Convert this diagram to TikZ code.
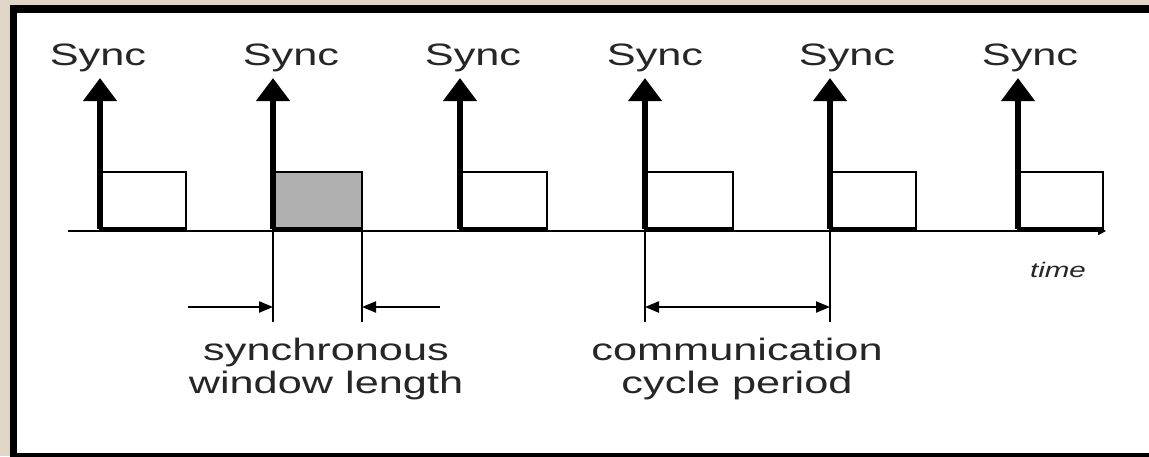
\documentclass[tikz,border=0pt]{standalone}
\usepackage{fontspec}
\setmainfont{Liberation Sans}[FakeStretch=1.4]
\usepackage{xcolor}
\usepackage{tikz}
\usetikzlibrary{arrows.meta,positioning}

\definecolor{paper}{RGB}{224,214,199}
\definecolor{window}{RGB}{176,176,176}

\begin{document}
\begin{tikzpicture}[x=0.025cm, y=-0.025cm,
    syncarrow/.style={-{Triangle[width=0.82cm,length=0.58cm]}, line width=4.2pt},
    slotbox/.style={draw, line width=2pt},
    axis/.style={-{Triangle[width=0.2cm,length=0.2cm]}, line width=1.1pt},
    marker/.style={line width=1.1pt},
    dim/.style={-{Triangle[width=0.28cm,length=0.35cm]}, line width=1.1pt},
    txt/.style={font=\fontsize{22}{23}\selectfont, text=black!85, inner sep=0pt, align=center}
]

% page and frame
\fill[paper] (0,0) rectangle (1149,456);
\useasboundingbox (0,0) rectangle (1149,456);
\draw[line width=5.2pt, fill=white] (13.5,9) rectangle (1170,456.5);

% time axis
\coordinate (t0) at (68,231);
\coordinate (t1) at (1106,231);
\draw[axis] (t0) -- (t1);
\node[font=\fontsize{15}{17}\selectfont\itshape, text=black!85, anchor=base] (time) at (1058,277) {time};

% one sync pulse per cycle, each followed by a slot
\foreach \i/\x/\xr/\lx in {1/100/186/98, 2/273/362/291, 3/460/547/473,
                           4/645/733/655, 5/830/916/847, 6/1018/1103/1030} {
  \coordinate (base\i) at (\x,229);
  \coordinate (tip\i) at (\x,78);
  \ifnum\i=2
    \fill[window] (\x,172) rectangle (\xr,229);
  \fi
  \draw[slotbox] (\x,172) rectangle (\xr,229);
  \draw[line width=3.2pt] (\x,229) -- (\xr,229);
  \draw[syncarrow] (base\i) -- (tip\i);
  \node[txt, anchor=base] (sync\i) at (\lx,65) {Sync};
}

% synchronous window
\coordinate (ws) at (273,231);
\coordinate (we) at (362,231);
\coordinate (wsb) at (273,322);
\coordinate (web) at (362,322);
\coordinate (wl) at (188,307);
\coordinate (wr) at (440,307);
\coordinate (wli) at (273,307);
\coordinate (wri) at (362,307);
\draw[marker] (ws) -- (wsb);
\draw[marker] (we) -- (web);
\draw[dim] (wl) -- (wli);
\draw[dim] (wr) -- (wri);
\node[txt, anchor=north] (winlabel) at (326,338) {synchronous\\window length};

% communication cycle
\coordinate (cs) at (645,231);
\coordinate (ce) at (830,231);
\coordinate (csb) at (645,322);
\coordinate (ceb) at (830,322);
\coordinate (cl) at (645,307);
\coordinate (cr) at (830,307);
\draw[marker] (cs) -- (csb);
\draw[marker] (ce) -- (ceb);
\draw[dim, {Triangle[width=0.28cm,length=0.35cm]}-{Triangle[width=0.28cm,length=0.35cm]}] (cl) -- (cr);
\node[txt, anchor=north] (cyclabel) at (737,338) {communication\\cycle period};

\end{tikzpicture}
\end{document}
